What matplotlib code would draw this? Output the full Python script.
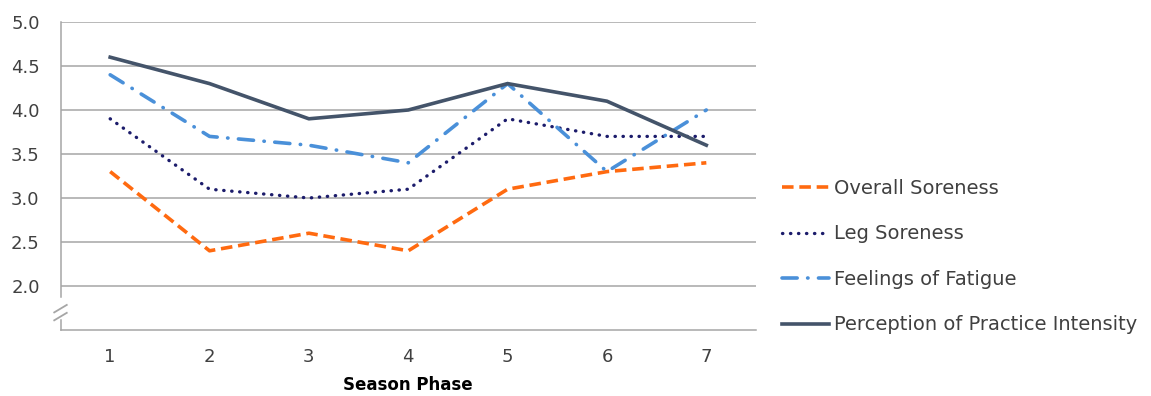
import matplotlib
matplotlib.use("Agg")
import matplotlib.pyplot as plt
from matplotlib.lines import Line2D

# Season phase data
phases = [1, 2, 3, 4, 5, 6, 7]
overall_soreness = [3.3, 2.4, 2.6, 2.4, 3.1, 3.3, 3.4]
leg_soreness = [3.9, 3.1, 3.0, 3.1, 3.9, 3.7, 3.7]
fatigue = [4.4, 3.7, 3.6, 3.4, 4.3, 3.3, 4.0]
practice_intensity = [4.6, 4.3, 3.9, 4.0, 4.3, 4.1, 3.6]
y_ticks = [2.0, 2.5, 3.0, 3.5, 4.0, 4.5, 5.0]

plt.rcParams['font.family'] = ['DejaVu Sans']
text_color = '#404040'
grid_color = '#A6A6A6'

fig = plt.figure(figsize=(11.51, 3.96), dpi=100)
ax = fig.add_axes([60.5 / 1151, 1 - 330 / 396, (756 - 60.5) / 1151, (330 - 22) / 396])

ax.plot(phases, overall_soreness, color='#FF6A10', lw=2.6, ls=(0, (3.2, 1.6)),
        label='Overall Soreness', solid_capstyle='butt', dash_capstyle='butt')
ax.plot(phases, leg_soreness, color='#1C1C6B', lw=2.4, ls=(0, (0.1, 2.3)),
        dash_capstyle='round', label='Leg Soreness')
ax.plot(phases, fatigue, color='#4A90D9', lw=2.6, ls=(0, (4.2, 2.9, 0.1, 2.9)),
        dash_capstyle='round', label='Feelings of Fatigue')
ax.plot(phases, practice_intensity, color='#44546A', lw=2.6,
        label='Perception of Practice Intensity')

ax.set_xlim(0.5, 7.5)
ax.set_ylim(1.5, 5.0)
ax.set_xticks(phases)
ax.set_yticks(y_ticks)
ax.set_yticklabels([f'{v:.1f}' for v in y_ticks])
ax.yaxis.grid(True, color=grid_color, lw=1.1)
ax.set_axisbelow(True)

for side in ['top', 'right', 'left']:
    ax.spines[side].set_visible(False)
ax.spines['bottom'].set_color(grid_color)
ax.spines['bottom'].set_linewidth(1.1)

# Broken left axis with break marks
yt = ax.get_yaxis_transform()
ax.add_line(Line2D([0, 0], [5.0, 1.875], transform=yt, color=grid_color, lw=1.1, clip_on=False))
ax.add_line(Line2D([0, 0], [1.61, 1.5], transform=yt, color=grid_color, lw=1.1, clip_on=False))
for y0 in (1.70, 1.61):
    ax.add_line(Line2D([-0.009, 0.009], [y0, y0 + 0.085], transform=yt,
                       color=grid_color, lw=1.3, clip_on=False))

ax.tick_params(axis='both', length=0, labelsize=13, colors=text_color)
ax.tick_params(axis='y', pad=15)
ax.tick_params(axis='x', pad=13)
ax.set_xlabel('Season Phase', fontsize=12, fontweight='bold', color='black', labelpad=7)

fig.legend(loc='upper left', bbox_to_anchor=(782 / 1151, 1 - 179 / 396),
           frameon=False, fontsize=14, handlelength=2.4, handletextpad=0.3,
           labelspacing=1.36, borderaxespad=0, borderpad=0, labelcolor=text_color)

fig.savefig('out.png', dpi=100)
